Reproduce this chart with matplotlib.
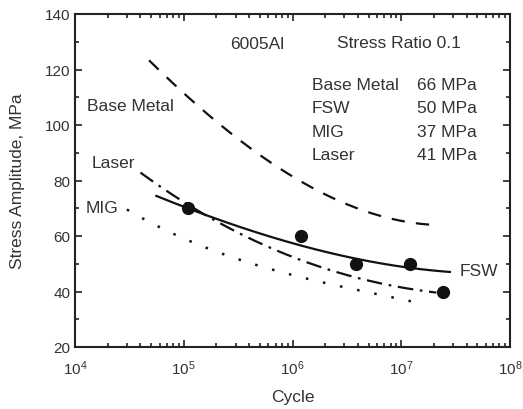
import matplotlib
matplotlib.use("Agg")
import matplotlib.pyplot as plt
from matplotlib.ticker import LogLocator, FixedLocator, MultipleLocator, FuncFormatter
import numpy as np

plt.rcParams['font.family'] = ['Liberation Sans', 'DejaVu Sans']
plt.rcParams['mathtext.fontset'] = 'custom'
plt.rcParams['mathtext.rm'] = 'Liberation Sans'
plt.rcParams['mathtext.it'] = 'Liberation Sans'

# FSW data points
fsw_pts_x = [1.1e5, 1.2e6, 3.8e6, 1.2e7, 2.4e7]
fsw_pts_y = [70, 60, 50, 50, 40]

# Fitted curves
fsw_x = [5.6e4, 1e5, 3e5, 1e6, 3e6, 1e7, 2.8e7]
fsw_y = [74.6, 70.4, 63.5, 57.8, 52.8, 48.6, 47.2]

base_x = [4.8e4, 1e5, 3e5, 1e6, 3e6, 1e7, 2.2e7]
base_y = [122.8, 112.4, 95.5, 80.8, 72.0, 66.0, 63.6]

laser_x = [4.0e4, 1e5, 3e5, 1e6, 3e6, 1e7, 2.1e7]
laser_y = [83.0, 72.0, 61.5, 53.0, 46.0, 41.2, 39.8]

mig_x = [3.0e4, 1e5, 3e5, 1e6, 3e6, 1e7, 1.6e7]
mig_y = [69.6, 59.0, 51.8, 46.4, 41.2, 37.2, 35.6]

table_names = ["Base Metal", "FSW", "MIG", "Laser"]
table_vals = ["66 MPa", "50 MPa", "37 MPa", "41 MPa"]

fig = plt.figure(figsize=(5.23, 4.10), dpi=100)
ax = fig.add_axes([75/523, 1-348/410, (510-75)/523, (348-15)/410])

def smooth(xs, ys):
    lx = np.log10(xs)
    c = np.polyfit(lx, ys, 3)
    t = np.linspace(lx[0], lx[-1], 200)
    return 10**t, np.polyval(c, t)

sx, sy = smooth(fsw_x, fsw_y)
ax.plot(sx, sy, color='#111111', lw=1.6, ls='-')
sx, sy = smooth(base_x, base_y)
ax.plot(sx, sy, color='#111111', lw=1.6, ls=(0, (6, 5)))
sx, sy = smooth(laser_x, laser_y)
ax.plot(sx, sy, color='#111111', lw=1.6, ls=(0, (7, 3, 1.2, 3)))
sx, sy = smooth(mig_x, mig_y)
ax.plot(sx, sy, color='#111111', lw=1.8, ls=(0, (1, 6)))

ax.plot(fsw_pts_x, fsw_pts_y, 'o', color='#111111', ms=8.5, zorder=5)

ax.set_xscale('log')
ax.set_xlim(1e4, 1e8)
ax.set_ylim(20, 140)
ax.yaxis.set_major_locator(MultipleLocator(20))
ax.yaxis.set_minor_locator(MultipleLocator(10))
ax.xaxis.set_major_locator(FixedLocator([1e4, 1e5, 1e6, 1e7, 1e8]))
ax.xaxis.set_minor_locator(LogLocator(base=10, subs=np.arange(2, 10), numticks=20))
ax.xaxis.set_major_formatter(FuncFormatter(lambda v, p: r'$10^{%d}$' % int(round(np.log10(v)))))
ax.xaxis.set_minor_formatter(FuncFormatter(lambda v, p: ''))

ax.tick_params(which='both', direction='in', top=True, right=True, width=1.2, colors='#222222',
               labelcolor='#333333', labelsize=11)
ax.tick_params(which='major', length=5)
ax.tick_params(which='minor', length=3)
ax.tick_params(axis='x', which='major', pad=8)
for s in ax.spines.values():
    s.set_linewidth(1.5)
    s.set_color('#222222')

ax.set_xlabel('Cycle', fontsize=12.5, color='#333333', labelpad=9)
ax.set_ylabel('Stress Amplitude, MPa', fontsize=12.5, color='#333333', labelpad=14)

tc = '#333333'
fs = 12.5
ax.text(10**5.43, 129.2, '6005Al', fontsize=fs, color=tc, va='center')
ax.text(10**6.41, 129.6, 'Stress Ratio 0.1', fontsize=fs, color=tc, va='center')
for i, (n, v) in enumerate(zip(table_names, table_vals)):
    yy = [114.6, 106.4, 97.8, 89.4][i]
    ax.text(10**6.18, yy, n, fontsize=fs, color=tc, va='center')
    ax.text(10**7.145, yy, v, fontsize=fs, color=tc, va='center')

ax.text(10**4.11, 107.2, 'Base Metal', fontsize=fs, color=tc, va='center')
ax.text(10**4.155, 86.6, 'Laser', fontsize=fs, color=tc, va='center')
ax.text(10**4.10, 70.2, 'MIG', fontsize=fs, color=tc, va='center')
ax.text(10**7.54, 47.6, 'FSW', fontsize=fs, color=tc, va='center')

fig.savefig('out.png', dpi=100)
